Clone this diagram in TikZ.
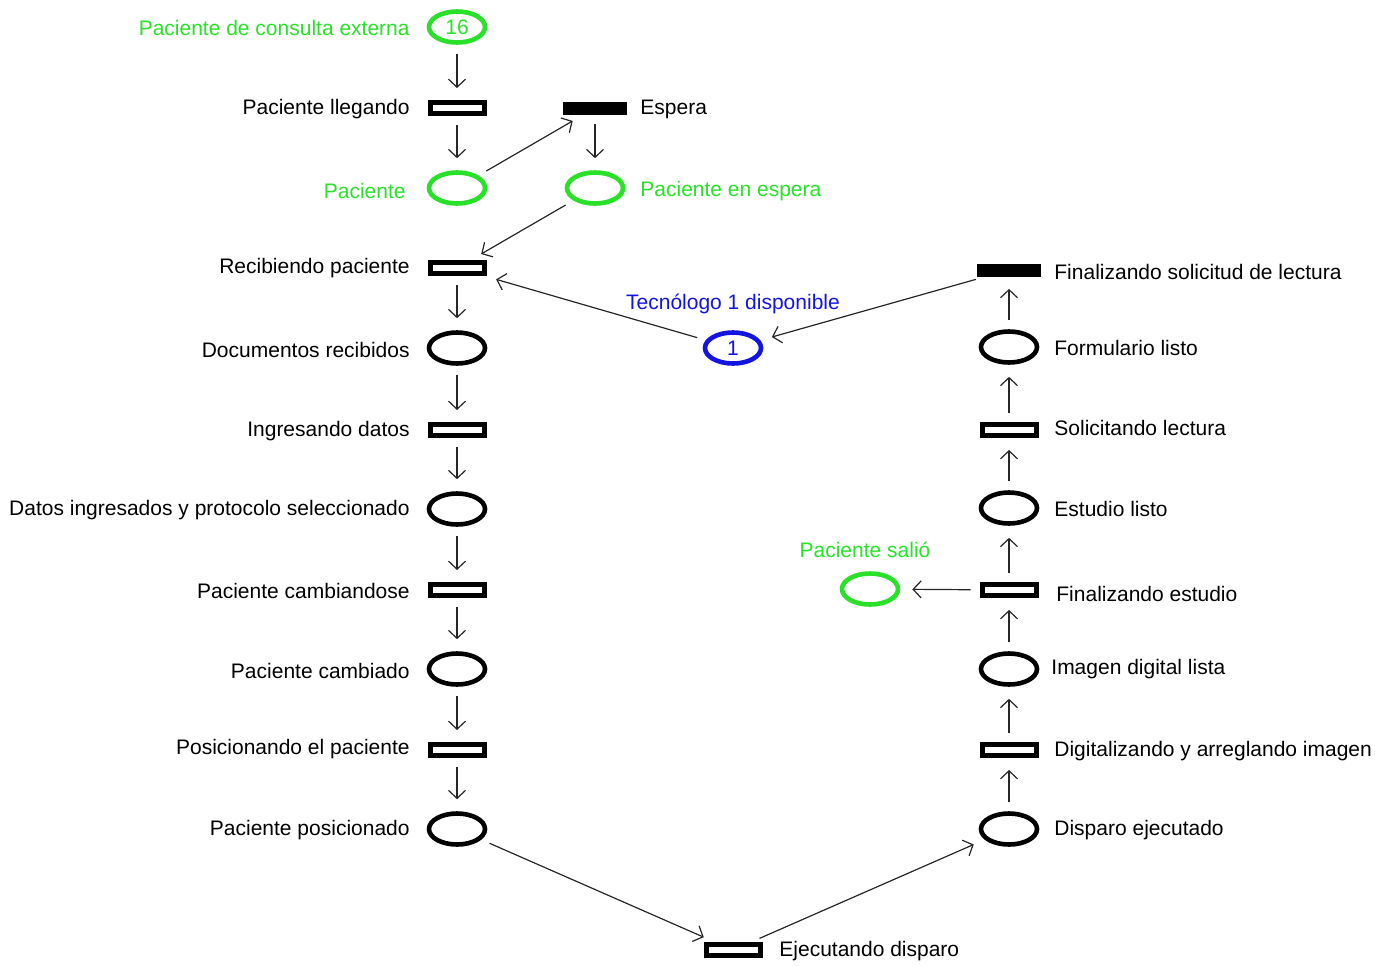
\documentclass[tikz,border=0pt]{standalone}
\usepackage{fontspec}
\setmainfont{Liberation Sans}
\usetikzlibrary{shapes.geometric,arrows.meta}
\definecolor{verde}{RGB}{40,225,40}
\definecolor{azul}{RGB}{20,20,225}
\tikzset{
  lugar/.style={ellipse,draw,line width=2.3pt,minimum width=28pt,minimum height=15.5pt,inner sep=0pt,font=\fontsize{10.5pt}{12pt}\selectfont},
  trans/.style={rectangle,draw,line width=2.5pt,minimum width=27pt,minimum height=5.5pt,inner sep=0pt},
  espera/.style={rectangle,fill=black,minimum width=32pt,minimum height=6.5pt,inner sep=0pt},
  txt/.style={font=\fontsize{10.5pt}{12pt}\selectfont,inner sep=0pt},
  flecha/.style={->,line width=0.6pt,black!85,shorten <=4.5pt,shorten >=6pt}
}

\begin{document}
\begin{tikzpicture}[x=0.5pt,y=-0.5pt,>={Straight Barb[length=4pt,width=8.5pt]}]
  \useasboundingbox (0,0) rectangle (1376,965);
  % columna izquierda
  \node[lugar,draw=verde,text=verde](pConsulta)at(457,27){16};
  \node[trans](tLlegando)at(457,108){};
  \node[lugar,draw=verde](pPaciente)at(457,188){};
  \node[espera](tEspera)at(595,108){};
  \node[lugar,draw=verde](pEnEspera)at(595,188){};
  \node[trans](tRecibiendo)at(457,268){};
  \node[lugar](pDocumentos)at(457,348){};
  \node[trans](tIngresando)at(457,430){};
  \node[lugar](pDatos)at(457,509){};
  \node[trans](tCambiandose)at(457,590){};
  \node[lugar](pCambiado)at(457,669){};
  \node[trans](tPosicionando)at(457,750){};
  \node[lugar](pPosicionado)at(457,829){};
  \node[trans](tDisparo)at(733,950){};
  % columna derecha
  \node[lugar](pDisparo)at(1009,829){};
  \node[trans](tDigitalizando)at(1009,750){};
  \node[lugar](pImagen)at(1009,669){};
  \node[trans](tFinEstudio)at(1009,590){};
  \node[lugar,draw=verde](pSalio)at(870,589){};
  \node[lugar](pEstudio)at(1009,508){};
  \node[trans](tSolicitando)at(1009,430){};
  \node[lugar](pFormulario)at(1009,347){};
  \node[espera](tFinSolicitud)at(1009,270){};
  \node[lugar,draw=azul,text=azul](pTecnologo)at(733,348){1};
  % etiquetas
  \node[txt,text=verde,anchor=east](lConsulta)at(410,28){Paciente de consulta externa};
  \node[txt,anchor=east](lLlegando)at(410,109){Paciente llegando};
  \node[txt,anchor=west](lEspera)at(640,109){Espera};
  \node[txt,text=verde,anchor=east](lPaciente)at(406,191){Paciente};
  \node[txt,text=verde,anchor=west](lEnEspera)at(640,191){Paciente en espera};
  \node[txt,anchor=east](lRecibiendo)at(410,268){Recibiendo paciente};
  \node[txt,anchor=east](lDocumentos)at(410,350){Documentos recibidos};
  \node[txt,anchor=east](lIngresando)at(410,431){Ingresando datos};
  \node[txt,anchor=east](lDatos)at(410,510){Datos ingresados y protocolo seleccionado};
  \node[txt,anchor=east](lCambiandose)at(410,591){Paciente cambiandose};
  \node[txt,anchor=east](lCambiado)at(410,671){Paciente cambiado};
  \node[txt,anchor=east](lPosicionando)at(410,749){Posicionando el paciente};
  \node[txt,anchor=east](lPosicionado)at(410,830){Paciente posicionado};
  \node[txt,anchor=west](lDisparo)at(779,951){Ejecutando disparo};
  \node[txt,anchor=west](lEjecutado)at(1054,830){Disparo ejecutado};
  \node[txt,anchor=west](lDigitalizando)at(1054,751){Digitalizando y arreglando imagen};
  \node[txt,anchor=west](lImagen)at(1051,669){Imagen digital lista};
  \node[txt,anchor=west](lFinEstudio)at(1056,594){Finalizando estudio};
  \node[txt,text=verde](lSalio)at(865,550){Paciente salió};
  \node[txt,anchor=west](lEstudio)at(1054,509){Estudio listo};
  \node[txt,anchor=west](lSolicitando)at(1054,428){Solicitando lectura};
  \node[txt,anchor=west](lFormulario)at(1054,348){Formulario listo};
  \node[txt,anchor=west](lFinSolicitud)at(1054,272){Finalizando solicitud de lectura};
  \node[txt,text=azul](lTecnologo)at(733,304){Tecnólogo 1 disponible};
  % arcos
  \foreach \a/\b in {pConsulta/tLlegando,tLlegando/pPaciente,pPaciente/tEspera,tEspera/pEnEspera,
    pEnEspera/tRecibiendo,tRecibiendo/pDocumentos,pDocumentos/tIngresando,tIngresando/pDatos,
    pDatos/tCambiandose,tCambiandose/pCambiado,pCambiado/tPosicionando,tPosicionando/pPosicionado,
    pPosicionado/tDisparo,tDisparo/pDisparo,pDisparo/tDigitalizando,tDigitalizando/pImagen,
    pImagen/tFinEstudio,tFinEstudio/pSalio,tFinEstudio/pEstudio,pEstudio/tSolicitando,
    tSolicitando/pFormulario,pFormulario/tFinSolicitud,tFinSolicitud/pTecnologo,pTecnologo/tRecibiendo}
    \draw[flecha](\a)--(\b);
\end{tikzpicture}
\end{document}
